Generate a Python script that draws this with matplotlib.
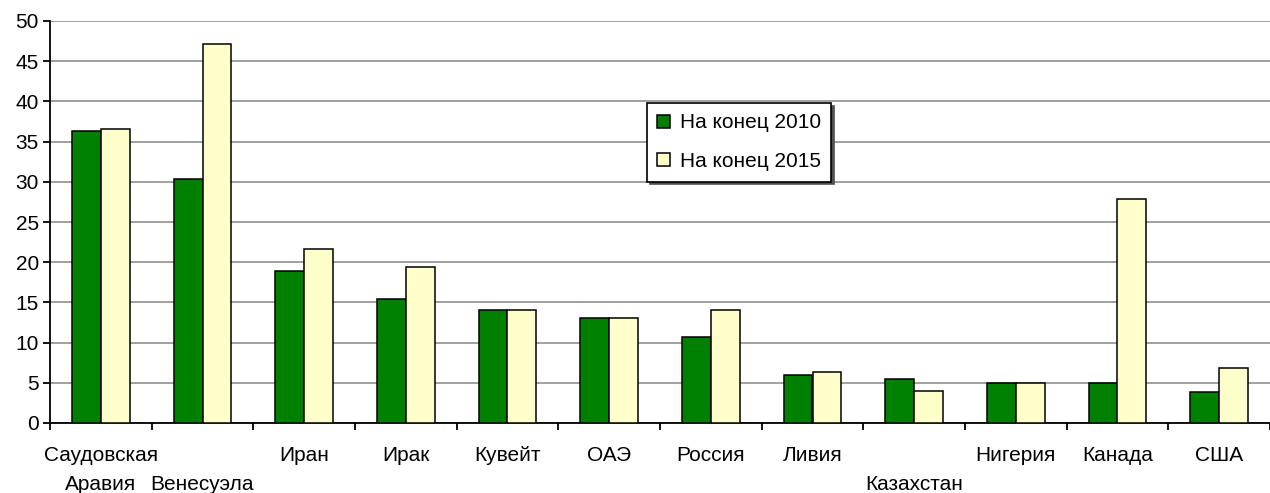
import matplotlib
matplotlib.use("Agg")
import matplotlib.pyplot as plt
import numpy as np

categories = ["Саудовская\nАравия", "Венесуэла", "Иран", "Ирак", "Кувейт", "ОАЭ",
              "Россия", "Ливия", "Казахстан", "Нигерия", "Канада", "США"]
series_names = ["На конец 2010", "На конец 2015"]
values_2010 = [36.3, 30.3, 18.9, 15.4, 14.0, 13.0, 10.7, 6.0, 5.5, 5.0, 5.0, 3.8]
values_2015 = [36.6, 47.1, 21.6, 19.4, 14.0, 13.0, 14.0, 6.3, 4.0, 5.0, 27.8, 6.8]
yticks = [0, 5, 10, 15, 20, 25, 30, 35, 40, 45, 50]
# label row (0 = first line, 1 = second line, Excel-style staggering)
label_rows = [0, 1, 0, 0, 0, 0, 0, 0, 1, 0, 0, 0]

plt.rcParams['font.family'] = ['Liberation Sans', 'DejaVu Sans']
FS = 15

W, H = 1270, 493
fig = plt.figure(figsize=(W / 100, H / 100), dpi=100)
left_px, right_px, top_px, bottom_px = 50, 1270, 21, 423
ax = fig.add_axes([left_px / W, (H - bottom_px) / H,
                   (right_px - left_px) / W, (bottom_px - top_px) / H])

cat_px = 102.1
x = np.arange(len(categories))
bw = 0.284
ax.bar(x - bw / 2, values_2010, width=bw, color='#008000', edgecolor='black',
       linewidth=1.1, label=series_names[0], zorder=3)
ax.bar(x + bw / 2, values_2015, width=bw, color='#FFFFCC', edgecolor='black',
       linewidth=1.1, label=series_names[1], zorder=3)

ax.set_xlim(-0.5, -0.5 + (right_px - left_px) / cat_px)
ax.set_ylim(0, 50)
ax.set_yticks(yticks)
ax.set_yticklabels([str(v) for v in yticks], fontsize=FS)
ax.yaxis.grid(True, color='#a0a0a0', linewidth=1.4, zorder=0)
ax.set_axisbelow(True)

for s in ['top', 'right']:
    ax.spines[s].set_visible(False)
for s in ['left', 'bottom']:
    ax.spines[s].set_linewidth(1.3)
    ax.spines[s].set_color('black')

ax.tick_params(axis='y', direction='out', length=5, width=1.3, pad=3)
ax.set_xticks(np.arange(-0.5, len(categories) + 0.5, 1.0), minor=False)
ax.set_xticklabels([])
ax.tick_params(axis='x', direction='out', length=5, width=1.3)

for i, (name, row) in enumerate(zip(categories, label_rows)):
    lines = name.split("\n")
    for j, line in enumerate(lines):
        r = row + j
        off = -27.4 - r * 20.9
        ax.annotate(line, xy=(i, 0), xycoords=('data', 'axes fraction'),
                    xytext=(0, off), textcoords='offset points',
                    ha='center', va='baseline', fontsize=FS, annotation_clip=False)

leg_x = (647 - left_px) / (right_px - left_px)
leg_y = (bottom_px - 103) / (bottom_px - top_px)
leg = ax.legend(loc='upper left', bbox_to_anchor=(leg_x, leg_y), borderaxespad=0,
                fontsize=FS, frameon=True, fancybox=False,
                shadow={'color': '#505050', 'alpha': 1.0, 'ox': 2, 'oy': -2},
                handlelength=0.58, handleheight=0.58, handletextpad=0.5,
                labelspacing=0.95, borderpad=0.5)
leg.get_frame().set_edgecolor('black')
leg.get_frame().set_linewidth(1.2)
leg.set_zorder(5)

fig.savefig('out.png', dpi=100)
